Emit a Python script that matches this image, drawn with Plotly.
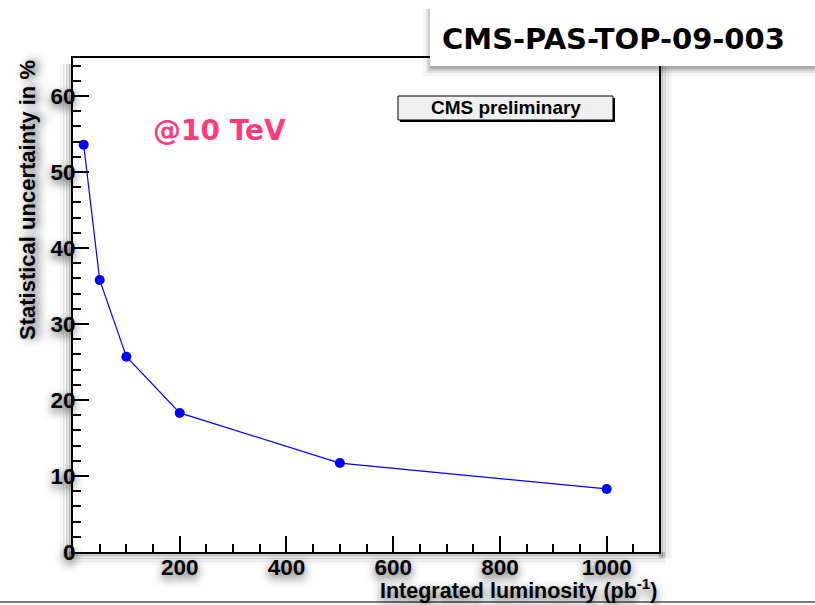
import plotly.graph_objects as go

# ---- data ----
lumi = [20, 50, 100, 200, 500, 1000]          # integrated luminosity (pb^-1)
unc = [53.6, 35.8, 25.7, 18.3, 11.7, 8.3]     # statistical uncertainty (%)
x_ticks = [200, 400, 600, 800, 1000]
y_ticks = [0, 10, 20, 30, 40, 50, 60]

W, H = 815, 605
L, R, T, B = 73, 659, 58, 552

def px(x):
    return (x - L) / (R - L)

def py(y):
    return (B - y) / (B - T)

FONT = "Liberation Sans"
SH = "0px 4px 10px rgba(0,0,0,0.7)"

fig = go.Figure()
fig.add_trace(go.Scatter(
    x=lumi, y=unc, mode="lines+markers",
    line=dict(color="#0000ff", width=1.2),
    marker=dict(color="#0000ff", size=10),
    showlegend=False, cliponaxis=False,
))

axis_common = dict(
    showgrid=False, zeroline=False, showline=True, linecolor="black",
    linewidth=2, mirror=True, ticks="inside", tickcolor="black",
    tickwidth=1.5, ticklen=16,
    tickfont=dict(family=FONT, size=22.5, color="black", weight="bold", shadow=SH),
)

fig.update_xaxes(range=[0, 1098], tickmode="array", tickvals=x_ticks,
                 ticktext=[str(v) for v in x_ticks],
                 minor=dict(ticks="inside", ticklen=8, dtick=50, tick0=0,
                            tickcolor="black", tickwidth=1.5),
                 ticklabelstandoff=-6,
                 **axis_common)
fig.update_yaxes(range=[0, 65], tickmode="array", tickvals=y_ticks,
                 ticktext=[str(v) for v in y_ticks],
                 minor=dict(ticks="inside", ticklen=8, dtick=2, tick0=0,
                            tickcolor="black", tickwidth=1.5),
                 ticklabelstandoff=-9,
                 **axis_common)

shapes = []
# soft shadows around the frame
for off, w, a in [(2, 4, 0.18), (5, 4, 0.11), (8, 4, 0.06), (11, 4, 0.03)]:
    shapes.append(dict(type="line", xref="paper", yref="paper", layer="below",
                       x0=px(L - 4), x1=px(R + 6), y0=py(B + off), y1=py(B + off),
                       line=dict(color=f"rgba(0,0,0,{a})", width=w)))
    shapes.append(dict(type="line", xref="paper", yref="paper", layer="below",
                       x0=px(L - off), x1=px(L - off), y0=py(T + 6), y1=py(B + 6),
                       line=dict(color=f"rgba(0,0,0,{a})", width=w)))
    shapes.append(dict(type="line", xref="paper", yref="paper", layer="below",
                       x0=px(R + off), x1=px(R + off), y0=py(T + 6), y1=py(B + 6),
                       line=dict(color=f"rgba(0,0,0,{a})", width=w)))

# CMS preliminary box with shadow
shapes.append(dict(type="rect", xref="paper", yref="paper",
                   x0=px(400), x1=px(615), y0=py(122), y1=py(98),
                   fillcolor="black", line=dict(width=0)))
shapes.append(dict(type="rect", xref="paper", yref="paper",
                   x0=px(398), x1=px(613), y0=py(120), y1=py(96),
                   fillcolor="#f0f0f0", line=dict(color="black", width=1)))

# top-right label box with shadow
for g, a in [(8, 0.04), (5, 0.07), (3, 0.10), (1, 0.14)]:
    shapes.append(dict(type="rect", xref="paper", yref="paper",
                       x0=px(430 - g + 1), x1=px(820), y0=py(66 + g + 2), y1=py(7 + 2),
                       fillcolor=f"rgba(0,0,0,{a})", line=dict(width=0)))
shapes.append(dict(type="rect", xref="paper", yref="paper",
                   x0=px(430), x1=px(820), y0=py(66), y1=py(7),
                   fillcolor="white", line=dict(width=0)))

# bottom separator line
shapes.append(dict(type="line", xref="paper", yref="paper",
                   x0=px(0), x1=px(W), y0=py(602), y1=py(602),
                   line=dict(color="#7a7a7a", width=2)))

annotations = [
    dict(text="CMS-PAS-TOP-09-003", xref="paper", yref="paper",
         x=px(440), y=py(39), xanchor="left", yanchor="middle", showarrow=False,
         font=dict(family="DejaVu Sans", size=29, color="black", weight="bold")),
    dict(text="@10 TeV", xref="paper", yref="paper",
         x=px(219), y=py(130), xanchor="center", yanchor="middle", showarrow=False,
         font=dict(family="DejaVu Sans", size=28, color="#ff3a7d", weight="bold")),
    dict(text="CMS preliminary", xref="paper", yref="paper",
         x=px(506), y=py(108), xanchor="center", yanchor="middle", showarrow=False,
         font=dict(family=FONT, size=19, color="black", weight="bold")),
    dict(text="Integrated luminosity (pb<sup>-1</sup>)", xref="paper", yref="paper",
         x=px(659), y=py(589), xanchor="right", yanchor="middle", showarrow=False,
         font=dict(family=FONT, size=21.5, color="black", weight="bold", shadow=SH)),
    dict(text="Statistical uncertainty in %", xref="paper", yref="paper",
         x=px(27), y=py(58), xanchor="center", yanchor="top", textangle=-90,
         showarrow=False,
         font=dict(family=FONT, size=22, color="black", weight="bold", shadow=SH)),
]

fig.update_layout(
    width=W, height=H,
    margin=dict(l=L, r=W - R, t=T, b=H - B),
    paper_bgcolor="white", plot_bgcolor="rgba(0,0,0,0)",
    shapes=shapes, annotations=annotations,
)

fig.write_html("out.html")
